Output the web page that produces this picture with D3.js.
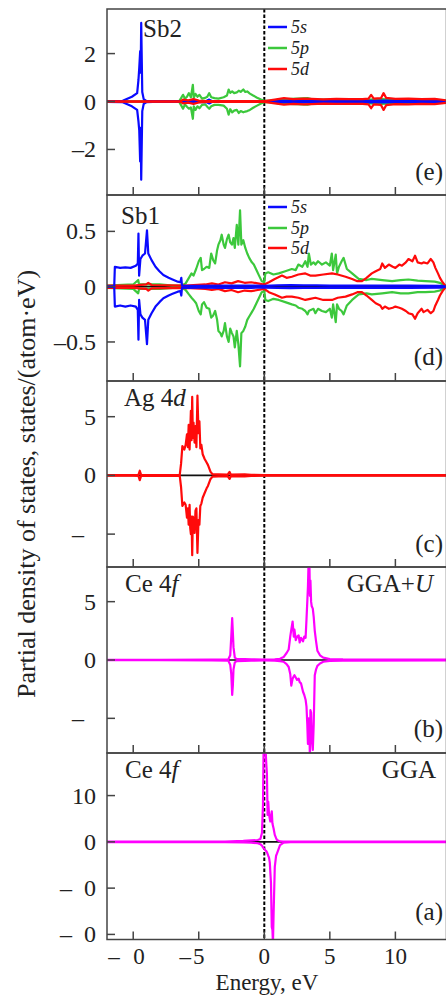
<!DOCTYPE html>
<html><head><meta charset="utf-8">
<script src="https://cdn.jsdelivr.net/npm/d3@7"></script>
<style>
body{margin:0;background:#fff}
svg{display:block}
text{font-family:"Liberation Serif","Times New Roman",serif;fill:#222}
</style>
</head><body>
<svg id="c" width="446" height="996"></svg>
<script>
// ---------------- DATA (energy eV, spin-up, spin-down) ----------------
const xTicks = [-10, -5, 0, 5, 10];
const xTickLabels = ["–10", "–5", "0", "5", "10"];

// (e) Sb2
const sb2Ticks = [2, 0, -2];
const sb2TickLabels = ["2", "0", "–2"];
const sb2_s = [[-12,0.02,-0.02],[-10.8,0.03,-0.03],[-10.1,0.2,-0.2],[-9.7,0.35,-0.35],[-9.6,0.9,-0.83],[-9.54,1.4,-1.2],[-9.47,2.1,-2.5],[-9.43,1.2,-1.1],[-9.39,3.28,-3.26],[-9.31,0.4,-0.4],[-9.2,0.1,-0.1],[-9.0,0.03,-0.03],[-8.5,0.02,-0.02],[-6.5,0.02,-0.02],[-4.4,0.03,-0.03],[-4.2,0.08,-0.08],[-4.0,0.02,-0.02],[-1,0.02,-0.02],[0,0.01,-0.01],[1,0.03,-0.03],[3,0.035,-0.035],[5,0.03,-0.03],[7,0.035,-0.035],[8.3,0.03,-0.03],[9,0.04,-0.04],[11,0.03,-0.03],[13.9,0.02,-0.02]];
const sb2_p = [[-12,0.01,-0.01],[-6.5,0.01,-0.01],[-6.35,0.14,-0.15],[-6.2,0.28,-0.3],[-6.05,0.12,-0.12],[-5.9,0.2,-0.22],[-5.75,0.35,-0.3],[-5.6,0.18,-0.25],[-5.45,0.7,-0.72],[-5.38,0.15,-0.2],[-5.25,0.32,-0.35],[-5.1,0.2,-0.2],[-4.95,0.28,-0.28],[-4.75,0.12,-0.14],[-4.5,0.15,-0.12],[-4.35,0.2,-0.22],[-4.2,0.35,-0.3],[-4.05,0.18,-0.2],[-3.8,0.14,-0.14],[-3.5,0.12,-0.14],[-3.1,0.18,-0.17],[-2.85,0.25,-0.3],[-2.72,0.5,-0.55],[-2.6,0.36,-0.32],[-2.45,0.42,-0.45],[-2.3,0.35,-0.38],[-2.1,0.38,-0.35],[-1.95,0.45,-0.48],[-1.8,0.4,-0.4],[-1.6,0.5,-0.45],[-1.45,0.4,-0.42],[-1.3,0.42,-0.4],[-1.1,0.33,-0.35],[-0.85,0.25,-0.26],[-0.55,0.16,-0.17],[-0.25,0.08,-0.08],[0,0.03,-0.03],[0.4,0.03,-0.03],[1.0,0.07,-0.07],[1.7,0.1,-0.1],[2.5,0.12,-0.11],[3.3,0.14,-0.13],[3.8,0.07,-0.07],[4.5,0.08,-0.07],[6,0.07,-0.07],[8,0.08,-0.08],[9,0.1,-0.1],[10,0.07,-0.07],[12,0.06,-0.06],[13.9,0.03,-0.03]];
const sb2_d = [[-12,0.01,-0.01],[-6.4,0.01,-0.01],[-6.2,0.08,-0.08],[-5.8,0.05,-0.05],[-5.4,0.1,-0.1],[-5.0,0.04,-0.04],[-4.4,0.02,-0.02],[-1,0.02,-0.02],[0,0.02,-0.02],[0.8,0.08,-0.08],[1.5,0.14,-0.13],[2.2,0.1,-0.1],[3.0,0.12,-0.12],[3.6,0.11,-0.11],[4.5,0.09,-0.09],[5.5,0.11,-0.1],[6.5,0.1,-0.1],[7.5,0.1,-0.1],[7.95,0.12,-0.12],[8.15,0.28,-0.28],[8.35,0.12,-0.12],[8.9,0.14,-0.14],[9.1,0.35,-0.35],[9.3,0.15,-0.15],[10,0.11,-0.11],[11,0.12,-0.12],[12,0.1,-0.1],[13,0.11,-0.11],[13.9,0.05,-0.05]];

// (d) Sb1
const sb1Ticks = [0.5, 0, -0.5];
const sb1TickLabels = ["0.5", "0", "–0.5"];
const sb1_s = [[-12,0,0],[-11.45,0,0],[-11.4,0.18,-0.18],[-11.0,0.17,-0.17],[-10.6,0.175,-0.18],[-10.2,0.17,-0.17],[-9.8,0.19,-0.18],[-9.65,0.21,-0.21],[-9.6,0.48,-0.48],[-9.55,0.1,-0.12],[-9.45,0.25,-0.25],[-9.3,0.28,-0.28],[-9.1,0.3,-0.3],[-8.95,0.51,-0.52],[-8.85,0.3,-0.3],[-8.6,0.24,-0.24],[-8.3,0.18,-0.18],[-8.0,0.14,-0.14],[-7.7,0.105,-0.105],[-7.3,0.08,-0.08],[-7.0,0.065,-0.065],[-6.6,0.045,-0.045],[-6.4,0.04,-0.04],[-6.33,0.08,-0.08],[-6.28,0.01,-0.01],[-5,0.008,-0.008],[-3,0.01,-0.01],[-1,0.01,-0.01],[0,0.008,-0.008],[1,0.012,-0.012],[2,0.014,-0.014],[3,0.012,-0.012],[4,0.012,-0.012],[5,0.01,-0.01],[8,0.01,-0.01],[11,0.01,-0.01],[13.5,0.008,-0.008],[13.9,0,0]];
const sb1_p = [[-12,0.01,-0.01],[-10,0.02,-0.02],[-9.62,0.06,-0.06],[-9.55,0.02,-0.02],[-8,0.02,-0.02],[-7,0.01,-0.01],[-6.3,0.01,-0.01],[-6.0,0.03,-0.03],[-5.75,0.08,-0.07],[-5.55,0.12,-0.1],[-5.4,0.1,-0.12],[-5.2,0.16,-0.15],[-5.0,0.23,-0.22],[-4.85,0.26,-0.25],[-4.75,0.15,-0.16],[-4.6,0.16,-0.14],[-4.4,0.18,-0.19],[-4.2,0.17,-0.2],[-4.05,0.3,-0.28],[-3.9,0.24,-0.26],[-3.75,0.21,-0.22],[-3.6,0.33,-0.3],[-3.5,0.38,-0.4],[-3.35,0.42,-0.42],[-3.25,0.47,-0.45],[-3.1,0.38,-0.4],[-3.0,0.35,-0.33],[-2.85,0.43,-0.45],[-2.72,0.47,-0.5],[-2.6,0.4,-0.38],[-2.47,0.38,-0.42],[-2.35,0.44,-0.45],[-2.25,0.35,-0.55],[-2.1,0.56,-0.4],[-1.98,0.38,-0.52],[-1.85,0.69,-0.72],[-1.75,0.38,-0.42],[-1.6,0.42,-0.4],[-1.45,0.35,-0.36],[-1.3,0.3,-0.3],[-1.15,0.26,-0.27],[-0.95,0.22,-0.23],[-0.8,0.2,-0.2],[-0.6,0.15,-0.15],[-0.4,0.1,-0.1],[-0.2,0.05,-0.05],[0,0.04,-0.04],[0.08,0.12,-0.12],[0.3,0.13,-0.13],[0.7,0.11,-0.11],[1.1,0.12,-0.12],[1.6,0.14,-0.14],[2.1,0.16,-0.16],[2.4,0.15,-0.17],[2.6,0.2,-0.19],[2.9,0.18,-0.2],[3.13,0.23,-0.22],[3.3,0.18,-0.25],[3.4,0.3,-0.22],[3.55,0.2,-0.21],[3.75,0.22,-0.2],[3.9,0.2,-0.24],[4.1,0.23,-0.2],[4.4,0.2,-0.22],[4.7,0.22,-0.23],[5.0,0.19,-0.2],[5.15,0.3,-0.28],[5.25,0.15,-0.16],[5.45,0.29,-0.32],[5.55,0.12,-0.16],[5.7,0.18,-0.2],[5.9,0.23,-0.22],[6.05,0.26,-0.25],[6.3,0.16,-0.17],[6.7,0.12,-0.12],[7.2,0.07,-0.07],[7.8,0.06,-0.06],[8.2,0.07,-0.07],[9.0,0.06,-0.06],[9.75,0.05,-0.05],[10.4,0.06,-0.06],[11.0,0.065,-0.06],[11.7,0.055,-0.05],[12.3,0.05,-0.05],[13.0,0.045,-0.045],[13.4,0.035,-0.035],[13.9,0,0]];
const sb1_d = [[-12,0.01,-0.01],[-10,0.01,-0.01],[-9.0,0.02,-0.02],[-8.85,0.035,-0.035],[-8.6,0.015,-0.015],[-6,0.01,-0.01],[-4.5,0.02,-0.02],[-4.0,0.03,-0.03],[-3.5,0.02,-0.02],[-3.0,0.04,-0.04],[-2.5,0.03,-0.03],[-2.0,0.05,-0.05],[-1.5,0.035,-0.035],[-1.0,0.04,-0.04],[-0.5,0.03,-0.03],[0,0.02,-0.02],[0.35,0.04,-0.05],[0.8,0.07,-0.07],[1.35,0.1,-0.1],[1.7,0.08,-0.09],[2.1,0.09,-0.09],[2.6,0.11,-0.1],[3.13,0.12,-0.12],[3.5,0.1,-0.11],[3.9,0.1,-0.1],[4.5,0.11,-0.12],[5.17,0.12,-0.12],[5.6,0.11,-0.1],[6.2,0.09,-0.09],[6.7,0.07,-0.07],[7.1,0.05,-0.05],[7.45,0.05,-0.05],[7.8,0.08,-0.08],[8.2,0.12,-0.12],[8.5,0.14,-0.15],[8.85,0.16,-0.17],[9.0,0.21,-0.2],[9.2,0.17,-0.18],[9.5,0.2,-0.2],[9.8,0.18,-0.19],[10.0,0.17,-0.18],[10.3,0.2,-0.19],[10.5,0.19,-0.2],[10.8,0.22,-0.22],[11.0,0.25,-0.24],[11.3,0.23,-0.25],[11.5,0.28,-0.29],[11.7,0.22,-0.24],[12.0,0.21,-0.2],[12.15,0.22,-0.23],[12.45,0.21,-0.21],[12.7,0.25,-0.24],[12.9,0.22,-0.22],[13.05,0.17,-0.17],[13.25,0.12,-0.12],[13.4,0.08,-0.08],[13.6,0.04,-0.04],[13.8,0.01,-0.01],[13.9,0,0]];

// (c) Ag 4d
const agTicks = [5, 0, -5];
const agTickLabels = ["5", "0", "–5"];
const ag_d = [[-12,0.02,-0.02],[-10,0.03,-0.03],[-9.6,0.05,-0.05],[-9.5,0.4,-0.4],[-9.4,0.05,-0.05],[-7,0.03,-0.03],[-6.45,0.05,-0.05],[-6.35,1.0,-1.0],[-6.25,2.5,-2.6],[-6.1,2.2,-2.3],[-6.0,2.6,-2.5],[-5.9,3.5,-3.6],[-5.83,2.4,-2.8],[-5.77,4.3,-4.2],[-5.7,2.2,-2.5],[-5.65,3.8,-4.5],[-5.6,5.5,-5.0],[-5.55,3.0,-3.5],[-5.5,6.7,-6.8],[-5.45,3.2,-3.5],[-5.4,4.5,-3.8],[-5.32,2.8,-4.9],[-5.25,4.2,-3.0],[-5.18,2.4,-2.8],[-5.1,6.8,-6.6],[-5.02,3.6,-3.8],[-4.95,4.6,-4.2],[-4.88,2.3,-2.6],[-4.8,2.6,-2.4],[-4.7,1.8,-1.9],[-4.55,1.4,-1.5],[-4.4,1.1,-1.1],[-4.3,0.9,-0.9],[-4.2,0.6,-0.6],[-4.1,0.3,-0.3],[-3.95,0.1,-0.1],[-3.5,0.08,-0.08],[-2.8,0.06,-0.06],[-2.65,0.3,-0.3],[-2.55,0.06,-0.06],[-1.5,0.08,-0.08],[-1,0.05,-0.05],[0,0.03,-0.03],[1,0.03,-0.03],[5,0.02,-0.02],[13.9,0.02,-0.02]];

// (b) Ce 4f GGA+U
const ceUTicks = [5, 0, -5];
const ceUTickLabels = ["5", "0", "–5"];
const ceU_f = [[-12,0.02,-0.02],[-8,0.02,-0.02],[-4,0.03,-0.03],[-2.75,0.05,-0.05],[-2.6,0.4,-0.4],[-2.52,2.0,-1.2],[-2.45,3.6,-3.0],[-2.4,2.4,-2.2],[-2.35,1.1,-0.8],[-2.25,0.2,-0.2],[-2.1,0.1,-0.1],[-1.5,0.08,-0.08],[-1,0.05,-0.05],[0,0.04,-0.04],[0.8,0.05,-0.05],[1.2,0.1,-0.1],[1.47,0.25,-0.15],[1.7,0.6,-0.35],[1.86,0.9,-0.6],[1.98,2.0,-1.2],[2.06,2.6,-2.2],[2.16,3.3,-1.6],[2.25,2.0,-1.4],[2.3,2.6,-1.3],[2.4,1.7,-1.5],[2.5,2.0,-1.7],[2.62,2.1,-1.6],[2.7,1.5,-1.9],[2.8,1.9,-2.0],[2.95,1.6,-2.7],[3.05,2.0,-3.0],[3.15,1.9,-3.4],[3.22,3.5,-4.0],[3.28,5.0,-5.5],[3.33,6.3,-7.2],[3.38,8.5,-5.0],[3.44,8.5,-6.0],[3.48,5.5,-8.5],[3.52,6.8,-4.3],[3.57,5.0,-4.5],[3.62,4.6,-6.6],[3.7,4.4,-7.7],[3.77,3.7,-5.5],[3.85,2.5,-1.3],[3.95,1.6,-0.8],[4.05,0.8,-0.5],[4.25,0.4,-0.3],[4.5,0.2,-0.15],[5,0.08,-0.08],[6,0.05,-0.05],[13.9,0.03,-0.03]];

// (a) Ce 4f GGA
const ceTicks = [10, 0, -10, -20];
const ceTickLabels = ["10", "0", "–10", "–20"];
const ce_f = [[-12,0.05,-0.05],[-3,0.08,-0.08],[-1.6,0.2,-0.1],[-1.0,0.3,-0.15],[-0.5,0.4,-0.3],[-0.3,0.6,-0.5],[-0.18,1.9,-0.8],[-0.1,8,-1.2],[-0.05,21,-1.4],[0.08,21,-1.8],[0.15,17,-2.0],[0.2,14.7,-2.2],[0.25,5.8,-2.6],[0.3,8.7,-3.0],[0.36,6.0,-3.4],[0.42,5.0,-4.5],[0.46,4.4,-6.5],[0.51,5.5,-8.9],[0.57,6.6,-18.4],[0.62,4.0,-19],[0.66,3.5,-22],[0.71,2.9,-15.5],[0.8,1.5,-5.4],[0.9,0.8,-3.0],[0.97,0.4,-2.5],[1.2,0.1,-0.7],[1.45,0.08,-0.2],[2,0.05,-0.05],[13.9,0.05,-0.05]];

const legendLabels = ["5s", "5p", "5d"];

// ---------------- DRAWING ----------------
const BLUE = "#0a0aff", GREEN = "#3cc83c", RED = "#ff0a0a", MAG = "#ff00ff";
// glyphs that are missing in the printed figure (kept as text, just not painted)
const lostGlyph = {"–10": 1, "–20": 1, "–5": 1};

const svg = d3.select("#c");
const L = 107, R = 446.5;
const x = d3.scaleLinear().domain([-12, 13.9]).range([L, R]);

const panels = [
  {id:"e", top:9, bot:195, dom:[-3.9,3.86], ticks:sb2Ticks, labels:sb2TickLabels,
   series:[[sb2_p,GREEN],[sb2_s,BLUE],[sb2_d,RED]], legend:[27,48,69], tag:"(e)", tagY:180,
   title:[{t:"Sb2"}], tx:143, ty:37, lost:false},
  {id:"d", top:195, bot:381, dom:[-0.853,0.829], ticks:sb1Ticks, labels:sb1TickLabels,
   series:[[sb1_p,GREEN],[sb1_d,RED],[sb1_s,BLUE]], legend:[207,228,248], tag:"(d)", tagY:365,
   title:[{t:"Sb1"}], tx:121, ty:224, lost:false},
  {id:"c", top:381, bot:567, dom:[-7.8,8.04], ticks:agTicks, labels:agTickLabels,
   series:[[ag_d,RED]], tag:"(c)", tagY:552,
   title:[{t:"Ag 4"},{t:"d",i:true}], tx:124, ty:406, lost:true},
  {id:"b", top:567, bot:753, dom:[-7.97,7.97], ticks:ceUTicks, labels:ceUTickLabels,
   series:[[ceU_f,MAG]], tag:"(b)", tagY:737,
   title:[{t:"Ce 4"},{t:"f",i:true}], tx:125, ty:592,
   right:[{t:"GGA+"},{t:"U",i:true}], rx:433, lost:true},
  {id:"a", top:753, bot:939.5, dom:[-21.1,19.2], ticks:ceTicks, labels:ceTickLabels,
   series:[[ce_f,MAG]], tag:"(a)", tagY:920,
   title:[{t:"Ce 4"},{t:"f",i:true}], tx:125, ty:778,
   right:[{t:"GGA"}], rx:436, lost:true}
];

function richText(g, parts, xx, yy, anchor, size) {
  const t = g.append("text").attr("x", xx).attr("y", yy).attr("text-anchor", anchor)
    .attr("font-size", size);
  parts.forEach(p => t.append("tspan").text(p.t).attr("font-style", p.i ? "italic" : "normal"));
  return t;
}
function labelWithLost(t, s, lost) {
  const idx = lost ? lostGlyph[s] : undefined;
  if (idx === undefined) { t.text(s); return; }
  t.append("tspan").text(s.slice(0, idx));
  t.append("tspan").text(s[idx]).attr("fill-opacity", 0);
  t.append("tspan").text(s.slice(idx + 1));
}

panels.forEach(p => {
  const y = d3.scaleLinear().domain(p.dom).range([p.bot, p.top]);
  const g = svg.append("g");
  const cid = "clip-" + p.id;
  svg.append("clipPath").attr("id", cid).append("rect")
    .attr("x", L).attr("y", p.top).attr("width", R - L).attr("height", p.bot - p.top);
  const pg = g.append("g").attr("clip-path", `url(#${cid})`);
  pg.append("line").attr("x1", L).attr("x2", R).attr("y1", y(0)).attr("y2", y(0))
    .attr("stroke", "#111").attr("stroke-width", 1.6);
  pg.append("line").attr("x1", x(0)).attr("x2", x(0)).attr("y1", p.top).attr("y2", p.bot)
    .attr("stroke", "#000").attr("stroke-width", 2).attr("stroke-dasharray", "3.5,2");
  p.series.forEach(([data, col]) => {
    [1, 2].forEach(k => {
      const line = d3.line().x(d => x(d[0])).y(d => y(d[k]));
      pg.append("path").attr("d", line(data)).attr("fill", "none")
        .attr("stroke", col).attr("stroke-width", 2.2).attr("stroke-linejoin", "round");
    });
  });
  g.append("rect").attr("x", L).attr("y", p.top).attr("width", R - L).attr("height", p.bot - p.top)
    .attr("fill", "none").attr("stroke", "#444").attr("stroke-width", 1.5);
  p.ticks.forEach((v, i) => {
    g.append("line").attr("x1", L).attr("x2", L + 8).attr("y1", y(v)).attr("y2", y(v))
      .attr("stroke", "#444").attr("stroke-width", 1.5);
    const t = g.append("text").attr("x", 96).attr("y", y(v) + 8).attr("text-anchor", "end")
      .attr("font-size", 24);
    labelWithLost(t, p.labels[i], p.lost);
  });
  xTicks.forEach(v => {
    g.append("line").attr("x1", x(v)).attr("x2", x(v)).attr("y1", p.bot).attr("y2", p.bot - 8)
      .attr("stroke", "#444").attr("stroke-width", 1.5);
  });
  richText(g, p.title, p.tx, p.ty, "start", 25);
  if (p.right) richText(g, p.right, p.rx, p.ty, "end", 25);
  g.append("text").attr("x", 443).attr("y", p.tagY).attr("text-anchor", "end")
    .attr("font-size", 25).text(p.tag);
  if (p.legend) {
    [BLUE, GREEN, RED].forEach((col, i) => {
      const yy = p.legend[i];
      g.append("line").attr("x1", 268).attr("x2", 287).attr("y1", yy).attr("y2", yy)
        .attr("stroke", col).attr("stroke-width", 2.5);
      g.append("text").attr("x", 291).attr("y", yy + 6).attr("font-size", 18)
        .attr("font-style", "italic").text(legendLabels[i]);
    });
  }
});

// x tick labels (digits centered on tick, minus hanging to the left)
xTicks.forEach((v, i) => {
  const s = xTickLabels[i];
  const neg = s.startsWith("–");
  const digits = neg ? s.slice(1) : s;
  const t = svg.append("text").attr("x", x(v)).attr("y", 964).attr("text-anchor", "middle")
    .attr("font-size", 23);
  if (neg && digits.length > 1) {
    t.append("tspan").text(digits[0]).attr("fill-opacity", 0);
    t.append("tspan").text(digits.slice(1));
  } else t.text(digits);
  if (neg) {
    const w = t.node().getComputedTextLength();
    svg.append("text").attr("x", x(v) - w / 2 - 2).attr("y", 964).attr("text-anchor", "end")
      .attr("font-size", 23).text("–");
  }
});

svg.append("text").attr("x", 267).attr("y", 990).attr("text-anchor", "middle")
  .attr("font-size", 23).text("Energy, eV");
svg.append("text").attr("transform", "translate(35,484) rotate(-90)").attr("text-anchor", "middle")
  .attr("font-size", 26).text("Partial density of states, states/(atom·eV)");
</script>
</body></html>
